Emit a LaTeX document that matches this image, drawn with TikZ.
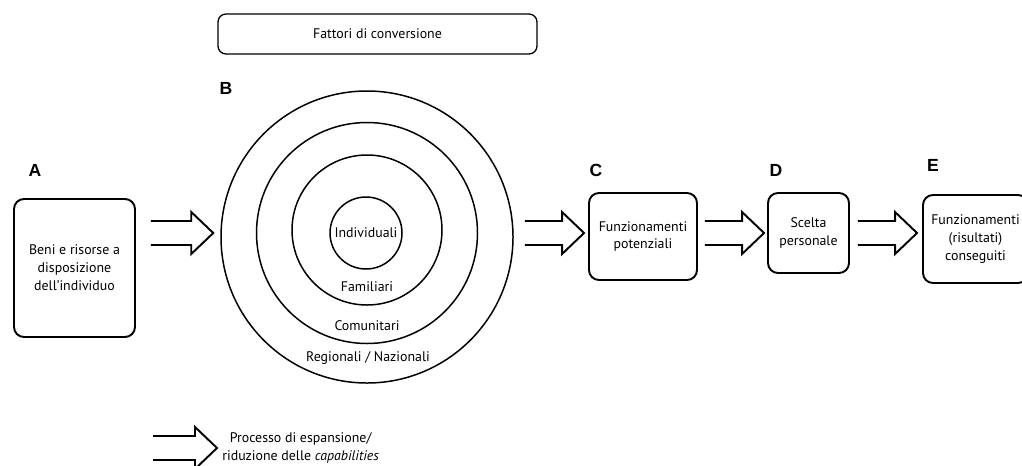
\documentclass[tikz,border=0pt]{standalone}
\usepackage{fontspec}
\setmainfont{PT Sans}
\newfontfamily\letterfont{Liberation Sans}
\usetikzlibrary{calc,positioning}

\tikzset{
  box/.style={draw, line width=1.1pt, rounded corners=2mm, align=center, inner sep=0pt,
    font=\fontsize{7.9}{10.2}\selectfont},
  topbox/.style={draw, line width=0.75pt, rounded corners=1.6mm, align=center,
    font=\fontsize{7.9}{10.2}\selectfont},
  ring/.style={draw, circle, line width=0.85pt, inner sep=0pt},
  txt/.style={align=center, inner sep=0pt, font=\fontsize{7.9}{10.2}\selectfont},
  lbl/.style={font=\letterfont\bfseries\fontsize{10}{12}\selectfont},
  dbl/.style={line width=1.1pt, line join=miter},
}

% double-line arrow: #1 tail, #2 tip
\newcommand{\dblarrow}[2]{%
  \draw[dbl] ($(#1 |- #2)+(0,-12)$) -- ($(#2)+(-22,-12)$) -- ($(#2)+(-22,-21)$) -- (#2)
    -- ($(#2)+(-22,21)$) -- ($(#2)+(-22,12)$) -- ($(#1 |- #2)+(0,12)$);}

\begin{document}
\begin{tikzpicture}[x=0.2mm, y=-0.2mm]
    \useasboundingbox (0,0) rectangle (1022,465);
    \clip (0,0) rectangle (1022,465);

    % Conversion factors
    \node[topbox, minimum width=63.8mm, minimum height=8mm] (fattori) at (377.5,34) {Fattori di conversione};

    % A: resources
    \node[lbl] (la) at (35,170) {A};
    \node[box, minimum width=24.2mm, minimum height=27.6mm] (A) at (74.5,268)
        {Beni e risorse a\\disposizione\\dell'individuo};

    % B: rings of conversion factors
    \node[lbl] (lb) at (226,88) {B};
    \node[ring, minimum size=58.4mm] (regional) at (367,237) {};
    \node[ring, minimum size=44.2mm] (community) at (367,233) {};
    \node[ring, minimum size=30mm] (family) at (367,230) {};
    \node[ring, minimum size=14.4mm, txt] (individual) at (366,233) {Individuali};
    \node[txt] (fam) at (367,287) {Familiari};
    \node[txt] (com) at (367,326) {Comunitari};
    \node[txt] (reg) at (368,358) {Regionali / Nazionali};

    % C: potential functionings
    \node[lbl] (lc) at (596,170) {C};
    \node[box, minimum width=21.6mm, minimum height=17.4mm] (C) at (643,236.5)
        {Funzionamenti\\potenziali};

    % D: personal choice
    \node[lbl] (ld) at (776,170) {D};
    \node[box, minimum width=16.2mm, minimum height=16mm] (D) at (808.5,233)
        {Scelta\\personale};

    % E: achieved functionings
    \node[lbl] (le) at (933,165) {E};
    \node[box, minimum width=21mm, minimum height=17.6mm] (E) at (975.5,239)
        {Funzionamenti\\(risultati)\\conseguiti};

    % arrows between the stages
    \coordinate (t1) at ($(A.east |- individual.center)+(15,0)$);
    \coordinate (h1) at ($(regional.west |- individual.center)+(-7,0)$);
    \coordinate (t2) at ($(regional.east |- individual.center)+(11,0)$);
    \coordinate (h2) at ($(C.west |- individual.center)+(-4,0)$);
    \coordinate (t3) at ($(C.east |- individual.center)+(7,0)$);
    \coordinate (h3) at ($(D.west |- individual.center)+(-3,0)$);
    \coordinate (t4) at ($(D.east |- individual.center)+(8,0)$);
    \coordinate (h4) at ($(E.west |- individual.center)+(-5,0)$);
    \dblarrow{t1}{h1}
    \dblarrow{t2}{h2}
    \dblarrow{t3}{h3}
    \dblarrow{t4}{h4}

    % Legend
    \coordinate (lt) at (153,448);
    \coordinate (lh) at (217,448);
    \dblarrow{lt}{lh}
    \node[txt, right=1mm of lh] (legend) {Processo di espansione/\\riduzione delle \textit{capabilities}};
\end{tikzpicture}
\end{document}
